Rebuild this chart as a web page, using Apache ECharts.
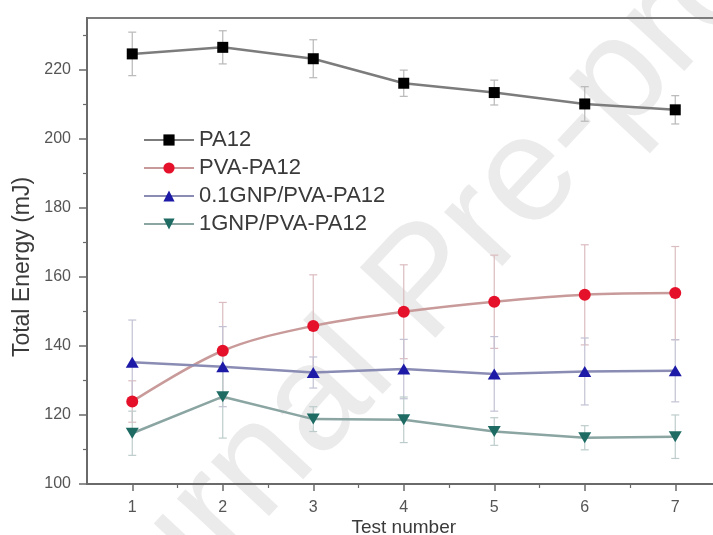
<!DOCTYPE html>
<html>
<head>
<meta charset="utf-8">
<script src="https://cdn.jsdelivr.net/npm/echarts@6/dist/echarts.min.js"></script>
<style>html,body{margin:0;padding:0;background:#fff;}#c{width:713px;height:535px;}</style>
</head>
<body>
<div id="c"></div>
<script>
const testNumbers = [1, 2, 3, 4, 5, 6, 7];
const seriesNames = ['PA12', 'PVA-PA12', '0.1GNP/PVA-PA12', '1GNP/PVA-PA12'];
const pa12 = [224.6, 226.5, 223.2, 216.1, 213.4, 210.1, 208.4];
const pa12Err = [6.3, 4.8, 5.5, 3.8, 3.6, 5.0, 4.1];
const pvaPa12 = [123.9, 138.6, 145.8, 149.9, 152.8, 154.8, 155.3];
const pvaPa12Err = [6.0, 14.0, 14.8, 13.6, 13.5, 14.5, 13.5];
const gnp01 = [135.3, 134.0, 132.3, 133.3, 131.9, 132.6, 132.8];
const gnp01Err = [12.2, 11.6, 4.5, 8.6, 10.8, 9.7, 9.0];
const gnp1 = [114.7, 125.3, 118.8, 118.6, 115.2, 113.4, 113.7];
const gnp1Err = [6.4, 12.0, 3.6, 6.6, 4.0, 3.5, 6.3];
const yTicks = [100, 120, 140, 160, 180, 200, 220];
const yMinorTicks = [110, 130, 150, 170, 190, 210, 230];
const xMinorTicks = [1.5, 2.5, 3.5, 4.5, 5.5, 6.5];

const colors = ['#000000', '#e5112b', '#1c1aa6', '#1d6b63'];
const lineColors = ['#7c7c7c', '#c99a9a', '#8a8cb4', '#8aa5a2'];
const errColors = ['#b8b8b8', '#dbbcc0', '#c2c2d4', '#bdcccb'];
const symbols = ['rect', 'circle', 'triangle', 'path://M0,0 L10,0 L5,9 Z'];
const values = [pa12, pvaPa12, gnp01, gnp1];
const errs = [pa12Err, pvaPa12Err, gnp01Err, gnp1Err];
const FONT = '"Liberation Sans", Arial, sans-serif';

const series = [];
values.forEach((vals, i) => {
  series.push({
    type: 'custom',
    name: seriesNames[i] + ' err',
    xAxisIndex: 0, yAxisIndex: 0,
    z: 1,
    silent: true,
    data: testNumbers.map((x, k) => [x, vals[k] - errs[i][k], vals[k] + errs[i][k]]),
    renderItem: function (params, api) {
      const x = api.value(0);
      const lo = api.coord([x, api.value(1)]);
      const hi = api.coord([x, api.value(2)]);
      const hw = 4;
      const st = { stroke: errColors[i], lineWidth: 1.2 };
      return {
        type: 'group',
        children: [
          { type: 'line', shape: { x1: hi[0], y1: hi[1], x2: lo[0], y2: lo[1] }, style: st },
          { type: 'line', shape: { x1: hi[0] - hw, y1: hi[1], x2: hi[0] + hw, y2: hi[1] }, style: st },
          { type: 'line', shape: { x1: lo[0] - hw, y1: lo[1], x2: lo[0] + hw, y2: lo[1] }, style: st }
        ]
      };
    }
  });
});
values.forEach((vals, i) => {
  series.push({
    type: 'line',
    name: seriesNames[i],
    xAxisIndex: 0, yAxisIndex: 0,
    z: 3,
    smooth: i === 1 ? 0.35 : false,
    data: testNumbers.map((x, k) => [x, vals[k]]),
    symbol: symbols[i],
    symbolSize: i === 0 ? 11 : (i === 1 ? 12 : [13, 11]),
    itemStyle: { color: colors[i] },
    lineStyle: { color: lineColors[i], width: 2.5 }
  });
});

const chart = echarts.init(document.getElementById('c'), null, { renderer: 'canvas' });
chart.setOption({
  animation: false,
  backgroundColor: '#ffffff',
  textStyle: { fontFamily: FONT },
  grid: { left: 87, top: 18, width: 633.5, height: 466, outerBoundsMode: 'none', containLabel: false, show: true, borderColor: '#7c7c7c', borderWidth: 2, backgroundColor: 'transparent' },
  graphic: [{
    type: 'text',
    z: -10,
    x: 428, y: 285,
    rotation: 47 * Math.PI / 180,
    style: {
      text: 'Journal Pre-proof',
      fontSize: 150,
      fontFamily: FONT,
      fill: '#ebebeb',
      align: 'center',
      verticalAlign: 'middle'
    }
  }],
  legend: {
    orient: 'vertical',
    left: 138, top: 124,
    itemWidth: 50, itemHeight: 14, itemGap: 6,
    data: seriesNames,
    textStyle: { fontSize: 22, color: '#3a3a3a', fontFamily: FONT }
  },
  xAxis: [{
    type: 'value', min: 0.5, max: 7.5,
    name: 'Test number', nameLocation: 'middle', nameGap: 34, nameMoveOverlap: false,
    nameTextStyle: { fontSize: 19, color: '#3a3a3a', fontFamily: FONT },
    axisLine: { show: true, lineStyle: { color: '#6a6a6a', width: 2 } },
    axisTick: { show: true, customValues: testNumbers, length: 7, lineStyle: { color: '#6a6a6a', width: 1.5 } },
    axisLabel: { customValues: testNumbers, margin: 16, fontSize: 16, color: '#555', fontFamily: FONT },
    splitLine: { show: false }
  }, {
    type: 'value', min: 0.5, max: 7.5, position: 'bottom',
    axisLine: { show: false },
    axisTick: { show: true, customValues: xMinorTicks, length: 4, lineStyle: { color: '#6a6a6a', width: 1.2 } },
    axisLabel: { show: false },
    splitLine: { show: false }
  }],
  yAxis: [{
    type: 'value', min: 100, max: 235,
    name: 'Total Energy (mJ)', nameLocation: 'middle', nameGap: 53, nameMoveOverlap: false,
    nameTextStyle: { fontSize: 23, color: '#3a3a3a', fontFamily: FONT, padding: [0, 32, 0, 0] },
    axisLine: { show: true, lineStyle: { color: '#6a6a6a', width: 2 } },
    axisTick: { show: true, customValues: yTicks, length: 8, lineStyle: { color: '#6a6a6a', width: 1.5 } },
    axisLabel: { customValues: yTicks, margin: 16, fontSize: 16, color: '#555', fontFamily: FONT },
    splitLine: { show: false }
  }, {
    type: 'value', min: 100, max: 235, position: 'left',
    axisLine: { show: false },
    axisTick: { show: true, customValues: yMinorTicks, length: 4, lineStyle: { color: '#6a6a6a', width: 1.2 } },
    axisLabel: { show: false },
    splitLine: { show: false }
  }],
  series: series
});
</script>
</body>
</html>
